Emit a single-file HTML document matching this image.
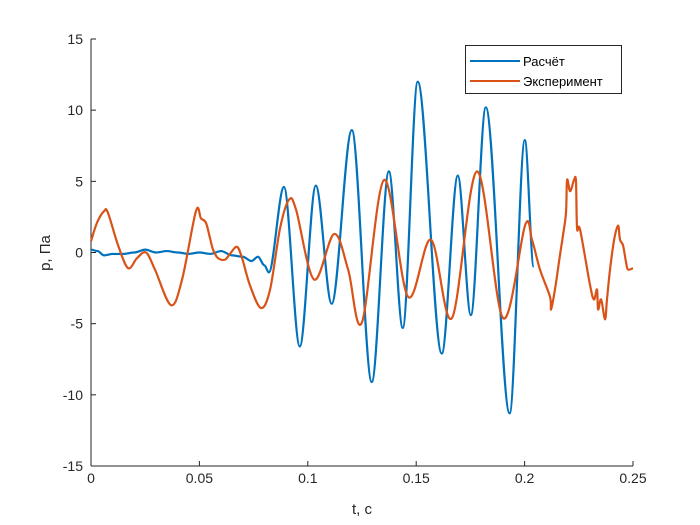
<!DOCTYPE html>
<html><head><meta charset="utf-8"><style>
body{margin:0;background:#fff;}
svg{display:block;font-family:"Liberation Sans",sans-serif;}
</style></head><body>
<svg id="chart" width="700" height="525" viewBox="0 0 700 525">
<rect width="700" height="525" fill="#fff"/>
<g id="axes"></g>
<g id="series"></g>
<text x="362" y="514" text-anchor="middle" font-size="15" fill="#262626">t, c</text>
<text transform="translate(50,253) rotate(-90)" text-anchor="middle" font-size="15" fill="#262626">p, Па</text>
<g>
<rect x="465.5" y="45.5" width="156" height="48" fill="#fff" stroke="#262626" stroke-width="1"/>
<line x1="470" y1="61" x2="520" y2="61" stroke="#0072BD" stroke-width="2"/>
<text x="523" y="66" font-size="13" fill="#000">Расчёт</text>
<line x1="470" y1="81" x2="520" y2="81" stroke="#D95319" stroke-width="2"/>
<text x="523" y="86" font-size="13" fill="#000">Эксперимент</text>
</g>
</svg>
<script>
const xTicks=[0,0.05,0.1,0.15,0.2,0.25];
const xTickLabels=["0","0.05","0.1","0.15","0.2","0.25"];
const yTicks=[-15,-10,-5,0,5,10,15];
const yTickLabels=["-15","-10","-5","0","5","10","15"];
const calcT=[0,0.003,0.006,0.01,0.015,0.02,0.025,0.03,0.035,0.04,0.045,0.05,0.055,0.06,0.065,0.07,0.074,0.077,0.08,0.082,0.089,0.0963,0.1037,0.111,0.1203,0.1295,0.1374,0.1438,0.1507,0.1618,0.1692,0.1752,0.1821,0.1931,0.2001,0.2042];
const calcP=[0.2,0.1,-0.2,-0.1,-0.1,0,0.2,0,0.1,0,-0.1,0,-0.1,0.1,-0.2,-0.3,-0.6,-0.3,-0.9,-1.4,4.6,-6.6,4.7,-3.6,8.6,-9.1,5.7,-5.3,12.0,-7.1,5.4,-4.4,10.2,-11.3,7.9,-1.0];
const expT=[0,.0028,.006,.0078,.0125,.0171,.0212,.0254,.0295,.0369,.042,.0484,.0507,.053,.0549,.0563,.0586,.0618,.0641,.0673,.0697,.0733,.0784,.0826,.0872,.0913,.0946,.1029,.1121,.1186,.125,.1352,.1462,.1568,.1665,.1781,.19,.2002,.2034,.2071,.2117,.2122,.214,.2163,.2177,.2191,.2196,.221,.2228,.2237,.2242,.2256,.2302,.232,.2334,.2339,.2353,.2371,.238,.2394,.2413,.2431,.244,.2454,.2468,.2477,.25];
const expP=[0.8,2.1,2.9,2.8,0.5,-1.1,-0.4,0.0,-1.2,-3.7,-1.9,2.9,2.4,2.1,1.0,0.2,-0.4,-0.5,-0.1,0.4,-0.4,-2.3,-3.9,-2.6,1.7,3.7,3.0,-1.9,1.3,-1.2,-4.9,5.1,-3.1,0.9,-4.6,5.7,-4.6,1.9,0.9,-1.2,-3.1,-4.0,-2.6,-0.2,1.2,2.8,5.1,4.3,5.1,5.0,1.7,1.6,-2.3,-3.3,-2.6,-4.0,-3.3,-4.7,-3.3,-1.2,0.9,1.9,0.9,0.5,-0.7,-1.2,-1.1];

const X0=91,X1=633,Y0=466,Y1=39;
const sx=t=>X0+(t-0)/(0.25)*(X1-X0);
const sy=p=>Y0-(p+15)/30*(Y0-Y1);
const NS="http://www.w3.org/2000/svg";
const axes=document.getElementById('axes');
function mk(tag,attrs,parent){const e=document.createElementNS(NS,tag);for(const k in attrs)e.setAttribute(k,attrs[k]);parent.appendChild(e);return e;}
const xa=mk('line',{x1:X0,y1:Y0,x2:X1,y2:Y0,stroke:'#262626','stroke-width':1},axes);


const ya=mk('line',{x1:X0,y1:Y0,x2:X0,y2:Y1,stroke:'#262626','stroke-width':1},axes);


xTicks.forEach((v,i)=>{const x=sx(v);
 const t=mk('line',{x1:x,y1:Y0,x2:x,y2:Y0-5,stroke:'#262626'},axes);
 
 
 const l=mk('text',{x:x,y:Y0+17,'text-anchor':'middle','font-size':14,fill:'#262626'},axes);
 l.textContent=xTickLabels[i];
 
 
});
yTicks.forEach((v,i)=>{const y=sy(v);
 const t=mk('line',{x1:X0,y1:y,x2:X0+5,y2:y,stroke:'#262626'},axes);
 
 
 const l=mk('text',{x:X0-8,y:y+5,'text-anchor':'end','font-size':14,fill:'#262626'},axes);
 l.textContent=yTickLabels[i];
 
 
});
function flatPath(T,P){let d=`M${sx(T[0])},${sy(P[0])}`;
 for(let i=1;i<T.length;i++){const x0=sx(T[i-1]),y0=sy(P[i-1]),x1=sx(T[i]),y1=sy(P[i]),dx=(x1-x0)/3;
  d+=` C${x0+dx},${y0} ${x1-dx},${y1} ${x1},${y1}`;}return d;}
function crPath(T,P){const pts=T.map((t,i)=>[sx(t),sy(P[i])]);let d=`M${pts[0][0]},${pts[0][1]}`;
 for(let i=0;i<pts.length-1;i++){const p0=pts[Math.max(0,i-1)],p1=pts[i],p2=pts[i+1],p3=pts[Math.min(pts.length-1,i+2)];
  const c1=[p1[0]+(p2[0]-p0[0])/6,p1[1]+(p2[1]-p0[1])/6],c2=[p2[0]-(p3[0]-p1[0])/6,p2[1]-(p3[1]-p1[1])/6];
  d+=` C${c1[0]},${c1[1]} ${c2[0]},${c2[1]} ${p2[0]},${p2[1]}`;}return d;}
const ser=document.getElementById('series');
const pc=mk('path',{d:flatPath(calcT,calcP),fill:'none',stroke:'#0072BD','stroke-width':2.2,'stroke-linejoin':'round'},ser);


const pe=mk('path',{d:crPath(expT,expP),fill:'none',stroke:'#D95319','stroke-width':2.2,'stroke-linejoin':'round'},ser);


</script>
</body></html>
